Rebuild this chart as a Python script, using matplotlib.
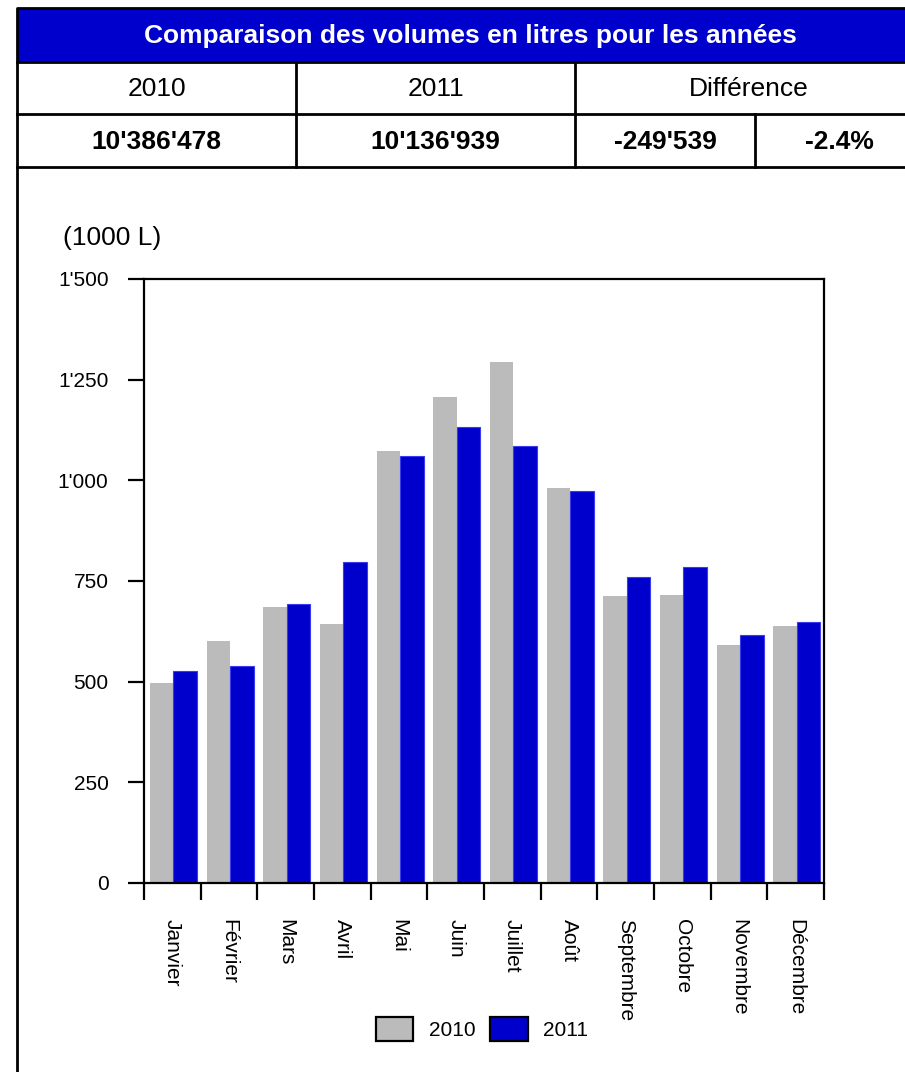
import matplotlib.pyplot as plt
from matplotlib.patches import Rectangle
from matplotlib.ticker import FuncFormatter, FixedLocator
import numpy as np

plt.rcParams['font.family'] = ['Liberation Sans', 'DejaVu Sans']

months = ["Janvier", "Février", "Mars", "Avril", "Mai", "Juin", "Juillet",
          "Août", "Septembre", "Octobre", "Novembre", "Décembre"]
vol_2010 = [497, 601, 686, 643, 1073, 1208, 1294, 981, 713, 716, 591, 638]
vol_2011 = [527, 539, 694, 798, 1060, 1132, 1085, 973, 760, 785, 616, 647]

title = "Comparaison des volumes en litres pour les années"
head_labels = ["2010", "2011", "Différence"]
totals = ["10'386'478", "10'136'939", "-249'539", "-2.4%"]

GRAY = "#bbbbbb"
BLUE = "#0000cc"
W, H = 905, 1072


def swiss(v, pos=None):
    return f"{int(v):,}".replace(",", "'")


fig = plt.figure(figsize=(W / 100, H / 100), dpi=100)

# frame + header table, drawn in pixel coordinates
bg = fig.add_axes([0, 0, 1, 1])
bg.set_xlim(0, W)
bg.set_ylim(H, 0)
bg.axis("off")
R = 923
lw = 2
bg.add_patch(Rectangle((17, 8), R - 17, 54, facecolor=BLUE, edgecolor="none"))
bg.plot([17, 17, R], [H, 8, 8], color="black", lw=lw, clip_on=False)
for yy in (62, 114, 167):
    bg.plot([17, R], [yy, yy], color="black", lw=lw)
for xx in (296, 575):
    bg.plot([xx, xx], [62, 167], color="black", lw=lw)
bg.plot([755, 755], [114, 167], color="black", lw=lw)

bg.text((17 + R) / 2, 36, title, color="white", fontsize=19, fontweight="bold",
        ha="center", va="center")
cols = [(17, 296), (296, 575), (575, R)]
for (a, b), lab in zip(cols, head_labels):
    bg.text((a + b) / 2, 89, lab, fontsize=19, ha="center", va="center")
cols4 = [(17, 296), (296, 575), (575, 755), (755, R)]
for (a, b), lab in zip(cols4, totals):
    bg.text((a + b) / 2, 142, lab, fontsize=19, fontweight="bold",
            ha="center", va="center")
bg.text(63, 238, "(1000 L)", fontsize=19, ha="left", va="center")

# bar chart
ax = fig.add_axes([144 / W, (H - 883) / H, 680 / W, 604 / H])
x = np.arange(len(months))
w = 0.415
ax.bar(x - w / 2 + 0.02, vol_2010, w, color=GRAY, edgecolor="none", label="2010")
ax.bar(x + w / 2 + 0.02, vol_2011, w, color=BLUE, edgecolor="#3a3aee",
       linewidth=0.8, label="2011")
ax.set_xlim(-0.5, len(months) - 0.5)
ax.set_ylim(0, 1500)

for s in ax.spines.values():
    s.set_linewidth(1.6)
ax.yaxis.set_major_locator(FixedLocator([0, 250, 500, 750, 1000, 1250, 1500]))
ax.yaxis.set_major_formatter(FuncFormatter(swiss))
ax.tick_params(axis="y", direction="out", length=11.5, width=1.6,
               labelsize=15, pad=14)

ax.xaxis.set_major_locator(FixedLocator(np.arange(len(months) + 1) - 0.5))
ax.xaxis.set_major_formatter(FuncFormatter(lambda v, p: ""))
ax.xaxis.set_minor_locator(FixedLocator(x))
ax.set_xticks(x, months, minor=True)
ax.tick_params(axis="x", which="major", direction="out", length=12, width=1.6)
ax.tick_params(axis="x", which="minor", length=0, pad=26, labelsize=15,
               labelrotation=270)
for t in ax.get_xticklabels(minor=True):
    t.set_va("top")
    t.set_ha("center")

fig.legend(loc="center", bbox_to_anchor=(482 / W, 1 - 1029 / H), ncol=2,
           frameon=False, fontsize=15, handlelength=1.8, handleheight=1.33,
           handletextpad=0.75, columnspacing=0.7,
           handler_map=None)
leg = fig.legends[0]
for p in leg.get_patches():
    p.set_edgecolor("black")
    p.set_linewidth(1.6)

fig.savefig("out.png", dpi=100)
